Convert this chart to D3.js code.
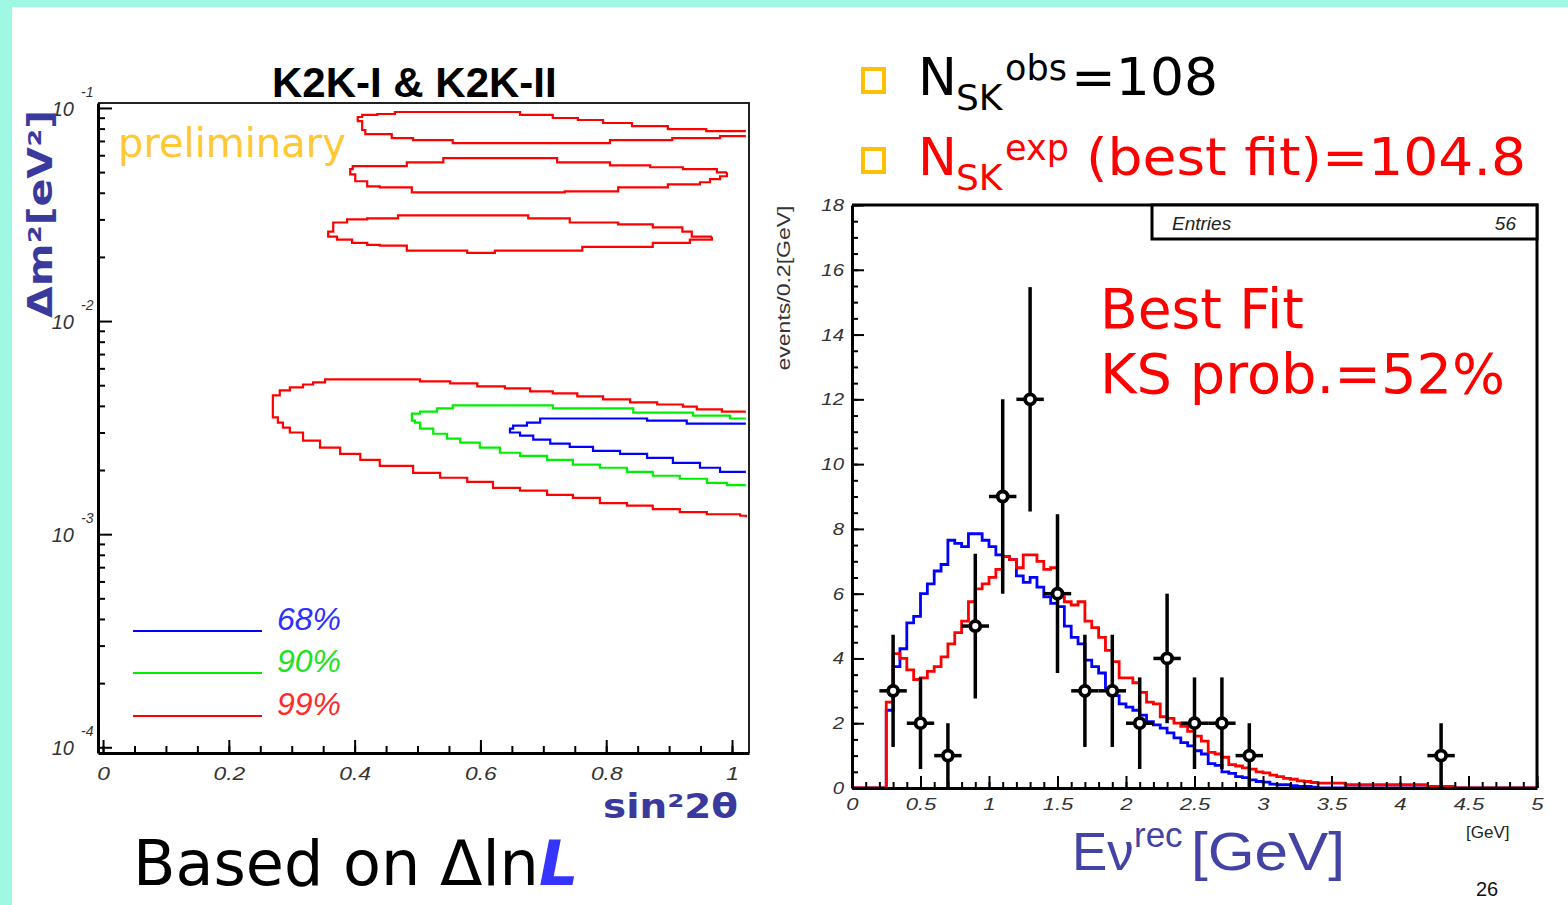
<!DOCTYPE html>
<html>
<head>
<meta charset="utf-8">
<script src="https://cdn.jsdelivr.net/npm/d3@7"></script>
<style>
  html, body { margin: 0; padding: 0; background: #fff; }
  svg { display: block; }
</style>
</head>
<body>
<svg id="slide" width="1568" height="905"></svg>
<script>
// ---------------------------------------------------------------
// Left panel: allowed regions in (sin²2θ, Δm² [eV²]) from ΔlnL
// Each contour is a list of [sin²2θ, Δm²] vertices of the stepped outline.
// ---------------------------------------------------------------
const c99Island1 = [[1.022,0.0779],[0.959,0.0779],[0.959,0.0796],[0.898,0.0796],[0.898,0.0822],[0.841,0.0822],[0.841,0.0850],[0.795,0.0850],[0.795,0.0878],[0.755,0.0878],[0.755,0.0897],[0.715,0.0897],[0.715,0.0927],[0.663,0.0927],[0.663,0.0957],[0.464,0.0957],[0.464,0.0937],[0.436,0.0927],[0.412,0.0907],[0.405,0.0868],[0.412,0.0788],[0.417,0.0754],[0.459,0.0738],[0.459,0.0722],[0.493,0.0722],[0.493,0.0707],[0.556,0.0707],[0.556,0.0684],[0.806,0.0684],[0.806,0.0707],[0.905,0.0707],[0.905,0.0722],[0.981,0.0722],[0.981,0.0738],[1.022,0.0738]];
const c99Island2 = [[0.992,0.0499],[0.976,0.0516],[0.922,0.0516],[0.922,0.0527],[0.870,0.0527],[0.870,0.0538],[0.806,0.0538],[0.806,0.0556],[0.722,0.0556],[0.722,0.0581],[0.541,0.0581],[0.541,0.0556],[0.483,0.0556],[0.483,0.0533],[0.424,0.0533],[0.397,0.0516],[0.393,0.0488],[0.401,0.0453],[0.420,0.0429],[0.440,0.0424],[0.491,0.0424],[0.491,0.0402],[0.734,0.0402],[0.734,0.0406],[0.819,0.0406],[0.819,0.0424],[0.898,0.0424],[0.898,0.0438],[0.949,0.0438],[0.949,0.0448],[0.965,0.0463],[0.981,0.0478],[0.992,0.0499]];
const c99Island3 = [[0.968,0.0249],[0.936,0.0263],[0.921,0.0263],[0.921,0.0275],[0.874,0.0275],[0.874,0.0284],[0.819,0.0284],[0.819,0.0290],[0.742,0.0290],[0.742,0.0303],[0.676,0.0303],[0.676,0.0313],[0.469,0.0313],[0.469,0.0303],[0.420,0.0300],[0.388,0.0290],[0.366,0.0263],[0.358,0.0249],[0.372,0.0241],[0.396,0.0233],[0.420,0.0228],[0.440,0.0226],[0.483,0.0226],[0.483,0.0214],[0.579,0.0214],[0.579,0.0209],[0.623,0.0209],[0.623,0.0214],[0.762,0.0214],[0.762,0.0223],[0.874,0.0223],[0.874,0.0233],[0.933,0.0233],[0.933,0.0241],[0.968,0.0249]];
const c99Main = [[1.022,3.76e-3],[0.984,3.85e-3],[0.944,3.97e-3],[0.922,4.06e-3],[0.881,4.15e-3],[0.838,4.29e-3],[0.795,4.43e-3],[0.754,4.58e-3],[0.715,4.68e-3],[0.679,4.83e-3],[0.639,4.94e-3],[0.595,5.10e-3],[0.552,5.21e-3],[0.504,5.33e-3],[0.353,5.16e-3],[0.334,5.04e-3],[0.318,4.88e-3],[0.297,4.73e-3],[0.281,4.48e-3],[0.270,4.15e-3],[0.270,3.53e-3],[0.278,3.34e-3],[0.286,3.16e-3],[0.297,3.00e-3],[0.318,2.75e-3],[0.345,2.55e-3],[0.377,2.38e-3],[0.409,2.23e-3],[0.440,2.09e-3],[0.493,1.94e-3],[0.536,1.84e-3],[0.579,1.76e-3],[0.620,1.65e-3],[0.663,1.60e-3],[0.706,1.53e-3],[0.747,1.48e-3],[0.790,1.40e-3],[0.833,1.36e-3],[0.874,1.31e-3],[0.917,1.27e-3],[0.960,1.24e-3],[1.013,1.22e-3],[1.022,1.20e-3]];
const c90 = [[1.022,3.49e-3],[0.997,3.60e-3],[0.938,3.72e-3],[0.843,3.89e-3],[0.715,4.02e-3],[0.556,3.89e-3],[0.531,3.76e-3],[0.504,3.68e-3],[0.491,3.56e-3],[0.491,3.41e-3],[0.496,3.34e-3],[0.504,3.13e-3],[0.525,2.96e-3],[0.547,2.81e-3],[0.568,2.69e-3],[0.599,2.55e-3],[0.631,2.41e-3],[0.663,2.33e-3],[0.706,2.23e-3],[0.747,2.12e-3],[0.790,2.05e-3],[0.833,1.96e-3],[0.874,1.88e-3],[0.917,1.82e-3],[0.960,1.74e-3],[0.992,1.70e-3],[1.022,1.70e-3]];
const c68 = [[1.022,3.30e-3],[0.928,3.41e-3],[0.865,3.49e-3],[0.695,3.34e-3],[0.674,3.23e-3],[0.652,3.13e-3],[0.647,3.00e-3],[0.663,2.90e-3],[0.684,2.78e-3],[0.711,2.66e-3],[0.742,2.57e-3],[0.779,2.46e-3],[0.822,2.38e-3],[0.865,2.28e-3],[0.906,2.16e-3],[0.949,2.05e-3],[0.981,1.96e-3],[1.022,1.96e-3]];

const clLabels = ["68%", "90%", "99%"];
const sinTicks = [0, 0.2, 0.4, 0.6, 0.8, 1];
const sinTickLabels = ["0", "0.2", "0.4", "0.6", "0.8", "1"];
const dm2Exponents = [-1, -2, -3, -4];

// ---------------------------------------------------------------
// Right panel: reconstructed neutrino energy, events per 0.2 GeV
// Expected shapes in 0.05 GeV bins from 0 to 5 GeV (100 bins)
// ---------------------------------------------------------------
const binWidth = 0.05;
const predNoOsc = [
  0,0,0,0,0, 2.4,3.75,4.3,5.1,5.3,
  6.0,6.3,6.7,6.9,7.65,7.55,7.45,7.85,7.85,7.65,
  7.45,7.2,7.15,7.05,6.55,6.35,6.5,6.2,5.9,5.7,
  5.6,5.0,4.65,4.45,3.95,3.75,3.55,3.05,2.85,2.6,
  2.5,2.4,2.25,2.05,1.95,1.85,1.7,1.55,1.4,1.3,
  1.15,1.05,0.75,0.7,0.5,0.45,0.35,0.32,0.25,0.2,
  0.18,0.12,0.1,0.1,0.07,0.05,0.05,0.03,0,0,
  0,0,0,0,0,0,0,0,0,0,
  0,0,0,0,0,0,0,0,0,0,
  0,0,0,0,0,0,0,0,0,0
];
const predBestFit = [
  0,0,0,0,0, 2.65,4.15,4.0,3.65,3.35,
  3.4,3.6,3.75,4.05,4.45,4.8,5.15,5.75,6.15,6.3,
  6.5,6.75,7.15,7.05,6.8,7.2,7.2,7.0,6.75,6.8,
  5.9,5.75,5.65,5.75,5.15,4.95,4.65,4.25,3.9,3.4,
  3.4,3.25,2.95,2.65,2.6,2.2,2.15,2.0,1.9,1.75,
  1.6,1.45,1.1,1.05,0.95,0.72,0.68,0.62,0.58,0.5,
  0.47,0.4,0.35,0.3,0.27,0.22,0.2,0.17,0.15,0.15,
  0.15,0.15,0.1,0.1,0.1,0.1,0.1,0.1,0.1,0.1,
  0.1,0.1,0.1,0.1,0.05,0.05,0.05,0.05,0,0,
  0,0,0,0,0,0,0,0,0,0
];
// Observed events (0.2 GeV bins, centre energies)
const dataE = [0.3, 0.5, 0.7, 0.9, 1.1, 1.3, 1.5, 1.7, 1.9, 2.1, 2.3, 2.5, 2.7, 2.9, 4.3];
const dataN = [3, 2, 1, 5, 9, 12, 6, 3, 3, 2, 4, 2, 2, 1, 1];
const dataBinHalf = 0.1;
const energyTicks = [0, 0.5, 1, 1.5, 2, 2.5, 3, 3.5, 4, 4.5, 5];
const eventTicks = [0, 2, 4, 6, 8, 10, 12, 14, 16, 18];
const nObs = 108, nExpBest = 104.8, ksProb = 52;

// ---------------------------------------------------------------
const svg = d3.select("#slide");
const W = 1568, H = 905;
const SANS = "'DejaVu Sans', Verdana, sans-serif";
const ARIAL = "'Liberation Sans', Arial, Helvetica, sans-serif";

// slide background with coloured border strip
svg.append("rect").attr("width", W).attr("height", H).attr("fill", "#9ff8e2");
svg.append("rect").attr("x", 12).attr("y", 7).attr("width", W - 12).attr("height", H - 7).attr("fill", "#fff");

function stretch(sel, factor) {
  sel.each(function () {
    const w = this.getComputedTextLength();
    d3.select(this).attr("textLength", w * factor).attr("lengthAdjust", "spacingAndGlyphs");
  });
}

// =================== LEFT PANEL ===================
const L = { x0: 98, x1: 749, y0: 103, y1: 753 };
const xL = d3.scaleLinear().domain([-0.008, 1.027]).range([L.x0, L.x1]);
const yL = d3.scaleLog().domain([9.4e-5, 0.1055]).range([L.y1, L.y0]);

svg.append("clipPath").attr("id", "clipL").append("rect")
  .attr("x", L.x0).attr("y", L.y0).attr("width", L.x1 - L.x0).attr("height", L.y1 - L.y0);

const contourLine = d3.line().x(d => xL(d[0])).y(d => yL(d[1])).curve(d3.curveStepAfter);
const gC = svg.append("g").attr("clip-path", "url(#clipL)").attr("fill", "none").attr("stroke-width", 2.2);
[
  [c99Island1, "#ff0000"], [c99Island2, "#ff0000"], [c99Island3, "#ff0000"],
  [c99Main, "#ff0000"], [c90, "#00ee00"], [c68, "#0000ff"]
].forEach(([pts, col]) => {
  gC.append("path").attr("d", contourLine(pts)).attr("stroke", col);
});

// frame (top, right)
svg.append("path").attr("d", `M${L.x0},${L.y0}H${L.x1}V${L.y1}`)
  .attr("fill", "none").attr("stroke", "#222").attr("stroke-width", 2);

// x axis (ticks pointing into the frame)
const gLxMinor = svg.append("g").attr("transform", `translate(0,${L.y1})`)
  .call(d3.axisBottom(xL).tickValues(d3.range(0, 1.0001, 0.05)).tickSize(-7).tickSizeOuter(0).tickFormat(""));
const gLx = svg.append("g").attr("transform", `translate(0,${L.y1})`)
  .call(d3.axisBottom(xL).tickValues(sinTicks).tickSize(-13).tickSizeOuter(0).tickPadding(14)
    .tickFormat((d, i) => sinTickLabels[i]));
gLx.select(".domain").remove();
gLxMinor.select(".domain").attr("stroke", "#000").attr("stroke-width", 3);
[gLxMinor, gLx].forEach(g => g.selectAll(".tick line").attr("stroke", "#000").attr("stroke-width", 2));
gLx.selectAll("text").attr("font-family", ARIAL).attr("font-style", "italic").attr("font-size", 19)
  .attr("fill", "#333").attr("dy", "0.71em");
stretch(gLx.selectAll("text"), 1.2);

// y axis (log)
const yMinorVals = [];
for (let e = -5; e <= -1; e++) for (let m = 2; m <= 9; m++) {
  const v = m * Math.pow(10, e);
  if (v >= 9.4e-5 && v <= 0.1055) yMinorVals.push(v);
}
const gLyMinor = svg.append("g").attr("transform", `translate(${L.x0},0)`)
  .call(d3.axisLeft(yL).tickValues(yMinorVals).tickSize(-7).tickSizeOuter(0).tickFormat(""));
const gLy = svg.append("g").attr("transform", `translate(${L.x0},0)`)
  .call(d3.axisLeft(yL).tickValues(dm2Exponents.map(e => Math.pow(10, e))).tickSize(-14).tickSizeOuter(0).tickFormat(""));
gLy.select(".domain").remove();
gLyMinor.select(".domain").attr("stroke", "#000").attr("stroke-width", 3);
[gLyMinor, gLy].forEach(g => g.selectAll(".tick line").attr("stroke", "#000").attr("stroke-width", 2));

const gLyLab = svg.append("g").attr("font-family", ARIAL).attr("font-style", "italic").attr("fill", "#333");
dm2Exponents.forEach(e => {
  const y = yL(Math.pow(10, e));
  gLyLab.append("text").attr("x", 74).attr("y", y + 8).attr("text-anchor", "end")
    .attr("font-size", 20).text("10");
  gLyLab.append("text").attr("x", 81).attr("y", y - 11).attr("font-size", 14).text(String(e));
});

// title and labels
svg.append("text").attr("x", 272).attr("y", 97).attr("font-family", ARIAL).attr("font-weight", "bold")
  .attr("font-size", 42).attr("fill", "#000").text("K2K-I & K2K-II");
svg.append("text").attr("x", 118).attr("y", 157).attr("font-family", SANS)
  .attr("font-size", 40).attr("fill", "#ffc832").text("preliminary");
svg.append("text").attr("transform", "translate(52,214) rotate(-90)").attr("text-anchor", "middle")
  .attr("font-family", SANS).attr("font-weight", "bold").attr("font-size", 33).attr("fill", "#3a3a9e")
  .attr("textLength", 208).attr("lengthAdjust", "spacingAndGlyphs").text("Δm²[eV²]");
svg.append("text").attr("x", 738).attr("y", 818).attr("text-anchor", "end")
  .attr("font-family", SANS).attr("font-weight", "bold").attr("font-size", 33).attr("fill", "#3a3a9e")
  .attr("textLength", 135).attr("lengthAdjust", "spacingAndGlyphs").text("sin²2θ");

// legend
const legCols = ["#0000ff", "#00ee00", "#ff0000"];
const legText = ["#3030ff", "#22e022", "#ff2a2a"];
const legY = [631, 673, 716];
clLabels.forEach((lab, i) => {
  svg.append("line").attr("x1", 133).attr("x2", 262).attr("y1", legY[i]).attr("y2", legY[i])
    .attr("stroke", legCols[i]).attr("stroke-width", 2.2);
  svg.append("text").attr("x", 277).attr("y", legY[i] - 1).attr("font-family", ARIAL)
    .attr("font-style", "italic").attr("font-size", 32).attr("fill", legText[i]).text(lab);
});

// footer
const foot = svg.append("text").attr("x", 133).attr("y", 885).attr("font-family", SANS)
  .attr("font-size", 62).attr("fill", "#000");
foot.append("tspan").text("Based on Δln");
foot.append("tspan").attr("font-weight", "bold").attr("font-style", "italic").attr("fill", "#3535ff").text("L");

// =================== RIGHT PANEL ===================
const R = { x0: 852, x1: 1537, y0: 205, y1: 788 };
const xR = d3.scaleLinear().domain([0, 5]).range([R.x0, R.x1]);
const yR = d3.scaleLinear().domain([0, 18]).range([R.y1, R.y0]);

svg.append("clipPath").attr("id", "clipR").append("rect")
  .attr("x", R.x0).attr("y", R.y0).attr("width", R.x1 - R.x0).attr("height", R.y1 - R.y0);

function histPoints(vals) {
  const pts = vals.map((v, i) => [i * binWidth, v]);
  pts.push([vals.length * binWidth, vals[vals.length - 1]]);
  return pts;
}
const histLine = d3.line().x(d => xR(d[0])).y(d => yR(d[1])).curve(d3.curveStepAfter);
const gH = svg.append("g").attr("clip-path", "url(#clipR)").attr("fill", "none").attr("stroke-width", 2.8);
gH.append("path").attr("d", histLine(histPoints(predNoOsc))).attr("stroke", "#0000ff");
gH.append("path").attr("d", histLine(histPoints(predBestFit))).attr("stroke", "#ff0000");

// axes
const gRxMinor = svg.append("g").attr("transform", `translate(0,${R.y1})`)
  .call(d3.axisBottom(xR).tickValues(d3.range(0, 5.0001, 0.1)).tickSize(-6).tickSizeOuter(0).tickFormat(""));
const gRx = svg.append("g").attr("transform", `translate(0,${R.y1})`)
  .call(d3.axisBottom(xR).tickValues(energyTicks).tickSize(-12).tickSizeOuter(0).tickPadding(10)
    .tickFormat(d => String(d)));
gRx.select(".domain").remove();
gRxMinor.select(".domain").attr("stroke", "#000").attr("stroke-width", 3);
const gRyMinor = svg.append("g").attr("transform", `translate(${R.x0},0)`)
  .call(d3.axisLeft(yR).tickValues(d3.range(0, 18.001, 0.5)).tickSize(-6).tickSizeOuter(0).tickFormat(""));
const gRy = svg.append("g").attr("transform", `translate(${R.x0},0)`)
  .call(d3.axisLeft(yR).tickValues(eventTicks).tickSize(-12).tickSizeOuter(0).tickPadding(8)
    .tickFormat(d => String(d)));
gRy.select(".domain").remove();
gRyMinor.select(".domain").attr("stroke", "#000").attr("stroke-width", 3);
[gRxMinor, gRx, gRyMinor, gRy].forEach(g => g.selectAll(".tick line").attr("stroke", "#000").attr("stroke-width", 2));
[gRx, gRy].forEach(g => g.selectAll("text").attr("font-family", ARIAL).attr("font-style", "italic")
  .attr("font-size", 17).attr("fill", "#333"));
gRx.selectAll("text").attr("dy", "0.71em");
stretch(gRx.selectAll("text"), 1.3);
stretch(gRy.selectAll("text"), 1.2);

// frame (top, right)
svg.append("path").attr("d", `M${R.x0},${R.y0}H${R.x1}V${R.y1}`)
  .attr("fill", "none").attr("stroke", "#000").attr("stroke-width", 3);

// statistics box
svg.append("rect").attr("x", 1152).attr("y", R.y0).attr("width", R.x1 - 1152).attr("height", 34)
  .attr("fill", "#fff").attr("stroke", "#000").attr("stroke-width", 3);
svg.append("text").attr("x", 1172).attr("y", 230).attr("font-family", ARIAL).attr("font-style", "italic")
  .attr("font-size", 19).attr("fill", "#222").text("Entries");
svg.append("text").attr("x", 1516).attr("y", 230).attr("text-anchor", "end").attr("font-family", ARIAL)
  .attr("font-style", "italic").attr("font-size", 19).attr("fill", "#222").text(d3.sum(dataN));

// observed points with errors
const gD = svg.append("g").attr("stroke", "#000");
dataE.forEach((e, i) => {
  const n = dataN[i], err = Math.sqrt(n);
  gD.append("line").attr("x1", xR(e - dataBinHalf)).attr("x2", xR(e + dataBinHalf))
    .attr("y1", yR(n)).attr("y2", yR(n)).attr("stroke-width", 3.5);
  gD.append("line").attr("x1", xR(e)).attr("x2", xR(e))
    .attr("y1", yR(Math.max(0, n - err))).attr("y2", yR(n + err)).attr("stroke-width", 3.5);
  gD.append("circle").attr("cx", xR(e)).attr("cy", yR(n)).attr("r", 5)
    .attr("fill", "#fff").attr("stroke-width", 3.8);
});

// axis titles
svg.append("text").attr("transform", "translate(790,288) rotate(-90)").attr("text-anchor", "middle")
  .attr("font-family", ARIAL).attr("font-size", 19).attr("fill", "#333")
  .attr("textLength", 165).attr("lengthAdjust", "spacingAndGlyphs").text("events/0.2[GeV]");
svg.append("text").attr("x", 1466).attr("y", 838).attr("font-family", ARIAL).attr("font-size", 17)
  .attr("fill", "#222").text("[GeV]");
const BLUE_T = "#4343a6";
svg.append("text").attr("x", 1072).attr("y", 870).attr("font-family", ARIAL).attr("font-size", 53)
  .attr("fill", BLUE_T).text("Eν");
svg.append("text").attr("x", 1134).attr("y", 847).attr("font-family", ARIAL).attr("font-size", 35)
  .attr("fill", BLUE_T).text("rec");
svg.append("text").attr("x", 1191).attr("y", 870).attr("font-family", ARIAL).attr("font-size", 53)
  .attr("fill", BLUE_T).attr("textLength", 154).attr("lengthAdjust", "spacingAndGlyphs").text("[GeV]");
svg.append("text").attr("x", 1476).attr("y", 896).attr("font-family", ARIAL).attr("font-size", 20)
  .attr("fill", "#111").text("26");

// fit annotation
svg.append("text").attr("x", 1100).attr("y", 328).attr("font-family", SANS).attr("font-size", 55)
  .attr("fill", "#ff0000").text("Best Fit");
svg.append("text").attr("x", 1100).attr("y", 393).attr("font-family", SANS).attr("font-size", 55)
  .attr("fill", "#ff0000").attr("textLength", 405).attr("lengthAdjust", "spacingAndGlyphs")
  .text(`KS prob.=${ksProb}%`);

// bullet lines
const bullets = [
  { y: 95, sup: "obs", rest: `=${nObs}`, col: "#000", x: 1071, len: 147 },
  { y: 175, sup: "exp", rest: `(best fit)=${nExpBest}`, col: "#ff0000", x: 1086, len: 440 }
];
bullets.forEach(b => {
  svg.append("rect").attr("x", 863).attr("y", b.y - 26).attr("width", 21).attr("height", 23)
    .attr("fill", "none").attr("stroke", "#ffc000").attr("stroke-width", 4);
  svg.append("text").attr("x", 918).attr("y", b.y).attr("font-family", SANS).attr("font-size", 52)
    .attr("fill", b.col).text("N");
  svg.append("text").attr("x", 956).attr("y", b.y + 15).attr("font-family", SANS).attr("font-size", 36)
    .attr("fill", b.col).text("SK");
  svg.append("text").attr("x", 1005).attr("y", b.y - 15).attr("font-family", SANS).attr("font-size", 35)
    .attr("fill", b.col).text(b.sup);
  svg.append("text").attr("x", b.x).attr("y", b.y).attr("font-family", SANS)
    .attr("font-size", 52).attr("fill", b.col)
    .attr("textLength", b.len).attr("lengthAdjust", "spacingAndGlyphs").text(b.rest);
});
</script>
</body>
</html>
